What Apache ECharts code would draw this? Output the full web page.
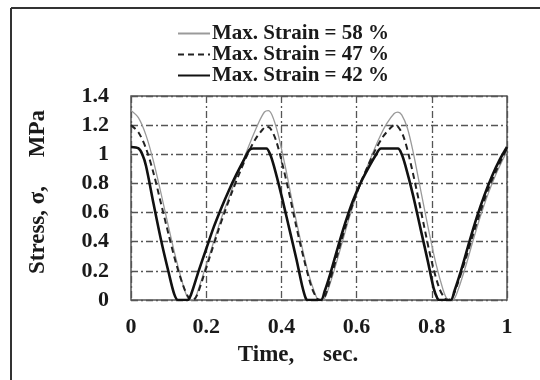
<!DOCTYPE html>
<html>
<head>
<meta charset="utf-8">
<script src="https://cdn.jsdelivr.net/npm/echarts@6/dist/echarts.min.js"></script>
<style>
  html, body { margin: 0; padding: 0; background: #fff; }
  #chart { width: 540px; height: 380px; }
</style>
</head>
<body>
<div id="chart"></div>
<script>
// Stress history over one second for three maximum strain levels
const seriesNames = ['Max. Strain = 58 %', 'Max. Strain = 47 %', 'Max. Strain = 42 %'];

// [time (s), stress (MPa)]
const strain58 = [[0,1.30],[0.02,1.25],[0.04,1.13],[0.06,0.95],[0.08,0.73],[0.10,0.50],[0.12,0.28],[0.14,0.09],[0.15,0.02],[0.16,0],[0.17,0.01],[0.18,0.08],[0.20,0.24],[0.22,0.40],[0.24,0.56],[0.26,0.70],[0.28,0.84],[0.30,0.97],[0.32,1.10],[0.34,1.22],[0.355,1.29],[0.365,1.30],[0.375,1.27],[0.39,1.15],[0.41,0.92],[0.43,0.66],[0.45,0.42],[0.47,0.20],[0.49,0.04],[0.50,0],[0.51,0],[0.52,0.04],[0.54,0.20],[0.56,0.38],[0.58,0.56],[0.60,0.72],[0.62,0.86],[0.64,0.99],[0.66,1.11],[0.68,1.21],[0.70,1.28],[0.71,1.29],[0.72,1.27],[0.735,1.18],[0.75,1.02],[0.77,0.76],[0.79,0.50],[0.81,0.26],[0.83,0.07],[0.84,0.01],[0.85,0],[0.86,0.01],[0.87,0.07],[0.89,0.23],[0.91,0.41],[0.93,0.58],[0.95,0.73],[0.97,0.86],[0.99,0.97],[1.0,1.02]];

const strain47 = [[0,1.20],[0.02,1.15],[0.04,1.04],[0.06,0.87],[0.08,0.66],[0.10,0.45],[0.12,0.25],[0.14,0.09],[0.155,0.01],[0.165,0],[0.175,0.03],[0.19,0.14],[0.21,0.30],[0.23,0.46],[0.25,0.61],[0.27,0.75],[0.29,0.88],[0.31,1.00],[0.33,1.10],[0.35,1.17],[0.36,1.19],[0.37,1.18],[0.385,1.10],[0.40,0.96],[0.42,0.74],[0.44,0.50],[0.46,0.28],[0.48,0.09],[0.495,0.01],[0.505,0],[0.515,0.02],[0.53,0.14],[0.55,0.32],[0.57,0.50],[0.59,0.66],[0.61,0.80],[0.63,0.92],[0.65,1.03],[0.67,1.12],[0.69,1.18],[0.70,1.20],[0.71,1.19],[0.725,1.12],[0.74,0.98],[0.76,0.75],[0.78,0.50],[0.80,0.26],[0.82,0.08],[0.835,0.01],[0.845,0],[0.855,0.02],[0.87,0.12],[0.89,0.28],[0.91,0.45],[0.93,0.61],[0.95,0.76],[0.97,0.88],[0.99,0.99],[1.0,1.04]];

const strain42 = [[0,1.05],[0.02,1.04],[0.03,1.00],[0.04,0.92],[0.06,0.66],[0.08,0.41],[0.10,0.19],[0.115,0.04],[0.125,0],[0.15,0],[0.16,0.04],[0.18,0.20],[0.20,0.35],[0.22,0.50],[0.24,0.63],[0.26,0.75],[0.28,0.86],[0.30,0.96],[0.315,1.03],[0.325,1.04],[0.36,1.04],[0.37,1.00],[0.38,0.92],[0.40,0.72],[0.42,0.50],[0.44,0.28],[0.455,0.10],[0.465,0.01],[0.47,0],[0.505,0],[0.515,0.06],[0.53,0.18],[0.55,0.36],[0.57,0.53],[0.59,0.68],[0.61,0.80],[0.63,0.90],[0.65,0.99],[0.665,1.04],[0.71,1.04],[0.72,1.00],[0.73,0.92],[0.75,0.72],[0.77,0.49],[0.79,0.26],[0.805,0.08],[0.815,0.01],[0.82,0],[0.85,0],[0.86,0.06],[0.88,0.22],[0.90,0.40],[0.92,0.57],[0.94,0.72],[0.96,0.85],[0.98,0.96],[1.0,1.05]];

// axis ticks
const xTicks = [0, 0.2, 0.4, 0.6, 0.8, 1];
const yTicks = [0, 0.2, 0.4, 0.6, 0.8, 1, 1.2, 1.4];

const serif = '"Liberation Serif", "DejaVu Serif", serif';
const ink = '#1a1a1a';
const gridLine = { color: '#555', width: 1.3, type: [7, 3, 2, 3] };
const tickFont = { fontFamily: serif, fontWeight: 'bold', fontSize: 22, color: ink };

const chart = echarts.init(document.getElementById('chart'), null, { renderer: 'canvas' });

chart.setOption({
  backgroundColor: '#fff',
  animation: false,
  grid: {
    left: 131, right: 33, top: 96, bottom: 80,
    show: true, borderColor: '#555', borderWidth: 1.5, backgroundColor: 'transparent'
  },
  legend: {
    orient: 'vertical',
    left: 172, top: 18,
    itemWidth: 32, itemHeight: 12, itemGap: 0,
    itemStyle: { opacity: 0 },
    textStyle: { fontFamily: serif, fontWeight: 'bold', fontSize: 21, color: ink, padding: [0, 0, 0, -3] },
    data: seriesNames
  },
  xAxis: {
    type: 'value',
    min: xTicks[0], max: xTicks[xTicks.length - 1], interval: xTicks[1] - xTicks[0],
    axisLine: { show: false },
    axisTick: { show: false },
    axisLabel: Object.assign({ margin: 16 }, tickFont),
    splitLine: { show: true, lineStyle: gridLine }
  },
  yAxis: {
    type: 'value',
    min: yTicks[0], max: yTicks[yTicks.length - 1], interval: yTicks[1] - yTicks[0],
    axisLine: { show: false },
    axisTick: { show: false },
    axisLabel: Object.assign({ margin: 22 }, tickFont),
    splitLine: { show: true, lineStyle: gridLine }
  },
  graphic: [
    { type: 'line', shape: { x1: 11, y1: 8, x2: 540, y2: 8 }, style: { stroke: '#333', lineWidth: 2 } },
    { type: 'line', shape: { x1: 11, y1: 8, x2: 11, y2: 380 }, style: { stroke: '#333', lineWidth: 2 } },
    {
      type: 'text', x: 298, y: 355,
      style: { text: 'Time,     sec.', font: 'bold 23px ' + serif, fill: ink, align: 'center', verticalAlign: 'middle' }
    },
    {
      type: 'text', x: 38, y: 192, rotation: Math.PI / 2,
      style: { text: 'Stress, σ,     MPa', font: 'bold 23px ' + serif, fill: ink, align: 'center', verticalAlign: 'middle' }
    }
  ],
  series: [
    {
      name: seriesNames[0], type: 'line', data: strain58, showSymbol: false, smooth: 0.3, z: 2,
      lineStyle: { color: '#9a9a9a', width: 1.3 }, itemStyle: { color: '#9a9a9a' }
    },
    {
      name: seriesNames[1], type: 'line', data: strain47, showSymbol: false, smooth: 0.3, z: 3,
      lineStyle: { color: '#222', width: 2, type: [6, 4] }, itemStyle: { color: '#222' }
    },
    {
      name: seriesNames[2], type: 'line', data: strain42, showSymbol: false, smooth: 0.3, z: 4,
      lineStyle: { color: '#111', width: 2.6 }, itemStyle: { color: '#111' }
    }
  ]
});
</script>
</body>
</html>
